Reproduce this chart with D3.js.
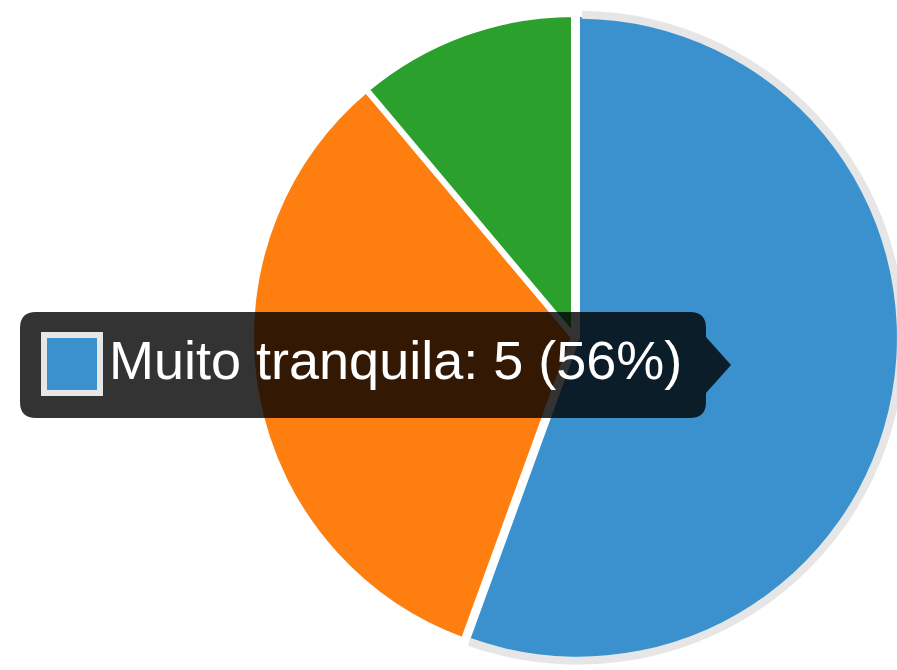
<!DOCTYPE html>
<html>
<head>
<meta charset="utf-8">
<script src="https://cdn.jsdelivr.net/npm/d3@7"></script>
<style>
  html, body { margin: 0; padding: 0; background: #fff; }
  #space { width: 897px; height: 670px; overflow: hidden; }
</style>
</head>
<body>
<div id="space"></div>
<script>
var labels = ["Muito tranquila", "Tranquila", "Pouco tranquila"];
var values = [5, 3, 1];
var colors = ["#3a91cd", "#fe7f10", "#2ca02c"];
var hover_index = 0;

var svg, cx = 574, cy = 337, radius = 323;

function init() {
    svg = d3.select("#space").append("svg")
                .attr("width", 897)
                .attr("height", 670);

    svg.append("g").attr("id", "pie");
    svg.append("g").attr("id", "tooltip");

    drawPie();
    drawTooltip();
}

function drawPie() {
    var pie = d3.pie().sort(null).value(function (d) { return d; });
    var arcs = pie(values);
    var arc = d3.arc().innerRadius(0).outerRadius(radius);
    var g = d3.select("#pie").attr("transform", "translate(" + cx + "," + cy + ")");

    arcs.forEach(function (a, i) {
        var off = [0, 0];
        if (i == hover_index) {
            //Hovered slice pushed out a little
            var mid = (a.startAngle + a.endAngle) / 2;
            off = [Math.sin(mid) * 4, -Math.cos(mid) * 4];
        }
        g.append("path")
            .attr("transform", "translate(" + off[0] + "," + off[1] + ")")
            .attr("d", arc(a))
            .attr("fill", colors[i])
            .attr("stroke", "#fff")
            .attr("stroke-width", i == hover_index ? 4 : 6)
            .attr("stroke-linejoin", "round");
        if (i == hover_index) {
            //Light grey hover border on the outer edge
            var ring = d3.arc().innerRadius(radius - 4).outerRadius(radius + 4)
                            .startAngle(a.startAngle + 0.012).endAngle(a.endAngle - 0.006);
            g.append("path")
                .attr("transform", "translate(" + off[0] + "," + off[1] + ")")
                .attr("d", ring())
                .attr("fill", "#e6e6e6");
        }
    });
}

function drawTooltip() {
    var total = d3.sum(values);
    var i = hover_index;
    var pct = Math.round(values[i] / total * 100);
    var x0 = 20, y0 = 312, w = 686, h = 106, r = 16, caret = 28, tipX = 731;
    var ym = y0 + h / 2;

    var p = d3.path();
    p.moveTo(x0 + r, y0);
    p.lineTo(x0 + w - r, y0);
    p.quadraticCurveTo(x0 + w, y0, x0 + w, y0 + r);
    p.lineTo(x0 + w, ym - caret);
    p.lineTo(tipX, ym);
    p.lineTo(x0 + w, ym + caret);
    p.lineTo(x0 + w, y0 + h - r);
    p.quadraticCurveTo(x0 + w, y0 + h, x0 + w - r, y0 + h);
    p.lineTo(x0 + r, y0 + h);
    p.quadraticCurveTo(x0, y0 + h, x0, y0 + h - r);
    p.lineTo(x0, y0 + r);
    p.quadraticCurveTo(x0, y0, x0 + r, y0);
    p.closePath();

    var g = d3.select("#tooltip");
    g.append("path").attr("d", p.toString()).attr("fill", "rgba(0,0,0,0.8)");

    //Colour box
    g.append("rect")
        .attr("x", 44).attr("y", 335)
        .attr("width", 56).attr("height", 58)
        .attr("fill", colors[i])
        .attr("stroke", "#e6e6e6")
        .attr("stroke-width", 6);

    g.append("text")
        .attr("x", 109)
        .attr("y", 379)
        .attr("font-family", "Liberation Sans, Arial, sans-serif")
        .attr("font-size", 54)
        .attr("fill", "#fff")
        .text(labels[i] + ": " + values[i] + " (" + pct + "%)");
}

init();
</script>
</body>
</html>
